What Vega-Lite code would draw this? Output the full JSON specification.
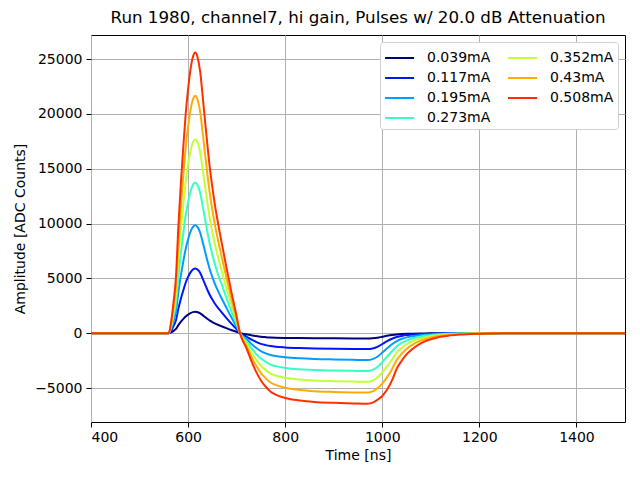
{
  "$schema": "https://vega.github.io/schema/vega-lite/v6.json",
  "width": 534,
  "height": 387,
  "autosize": {"type": "none"},
  "padding": {"left": 91, "top": 35, "right": 15, "bottom": 58},
  "background": "white",
  "title": {"text": "Run 1980, channel7, hi gain, Pulses w/ 20.0 dB Attenuation", "font": "DejaVu Sans", "fontSize": 16.7, "fontWeight": "normal", "color": "black", "offset": 8},
  "config": {
    "view": {"stroke": "black", "strokeWidth": 1},
    "font": "DejaVu Sans"
  },
  "data": {"values": [
    {"t":400,"s":"0.039mA","v":0},{"t":500,"s":"0.039mA","v":0},{"t":560,"s":"0.039mA","v":0},{"t":565,"s":"0.039mA","v":78},{"t":570,"s":"0.039mA","v":215},{"t":575,"s":"0.039mA","v":390},{"t":580,"s":"0.039mA","v":741},{"t":585,"s":"0.039mA","v":1034},{"t":590,"s":"0.039mA","v":1287},{"t":595,"s":"0.039mA","v":1521},{"t":600,"s":"0.039mA","v":1697},{"t":605,"s":"0.039mA","v":1833},{"t":610,"s":"0.039mA","v":1921},{"t":615,"s":"0.039mA","v":1950},{"t":620,"s":"0.039mA","v":1911},{"t":625,"s":"0.039mA","v":1814},{"t":630,"s":"0.039mA","v":1648},{"t":635,"s":"0.039mA","v":1472},{"t":640,"s":"0.039mA","v":1301},{"t":645,"s":"0.039mA","v":1143},{"t":650,"s":"0.039mA","v":1014},{"t":655,"s":"0.039mA","v":897},{"t":660,"s":"0.039mA","v":796},{"t":665,"s":"0.039mA","v":702},{"t":670,"s":"0.039mA","v":614},{"t":680,"s":"0.039mA","v":439},{"t":690,"s":"0.039mA","v":273},{"t":700,"s":"0.039mA","v":117},{"t":707,"s":"0.039mA","v":0},{"t":715,"s":"0.039mA","v":-67},{"t":720,"s":"0.039mA","v":-101},{"t":730,"s":"0.039mA","v":-187},{"t":740,"s":"0.039mA","v":-262},{"t":750,"s":"0.039mA","v":-322},{"t":760,"s":"0.039mA","v":-360},{"t":770,"s":"0.039mA","v":-389},{"t":780,"s":"0.039mA","v":-408},{"t":800,"s":"0.039mA","v":-430},{"t":830,"s":"0.039mA","v":-449},{"t":860,"s":"0.039mA","v":-461},{"t":900,"s":"0.039mA","v":-469},{"t":940,"s":"0.039mA","v":-476},{"t":970,"s":"0.039mA","v":-480},{"t":980,"s":"0.039mA","v":-461},{"t":990,"s":"0.039mA","v":-413},{"t":1000,"s":"0.039mA","v":-326},{"t":1010,"s":"0.039mA","v":-240},{"t":1020,"s":"0.039mA","v":-168},{"t":1030,"s":"0.039mA","v":-115},{"t":1040,"s":"0.039mA","v":-82},{"t":1050,"s":"0.039mA","v":-58},{"t":1060,"s":"0.039mA","v":-43},{"t":1080,"s":"0.039mA","v":-24},{"t":1100,"s":"0.039mA","v":-14},{"t":1120,"s":"0.039mA","v":-7},{"t":1140,"s":"0.039mA","v":-4},{"t":1160,"s":"0.039mA","v":-2},{"t":1180,"s":"0.039mA","v":0},{"t":1250,"s":"0.039mA","v":0},{"t":1500,"s":"0.039mA","v":0},
    {"t":400,"s":"0.117mA","v":0},{"t":500,"s":"0.117mA","v":0},{"t":560,"s":"0.117mA","v":0},{"t":565,"s":"0.117mA","v":236},{"t":570,"s":"0.117mA","v":649},{"t":575,"s":"0.117mA","v":1180},{"t":580,"s":"0.117mA","v":2242},{"t":585,"s":"0.117mA","v":3127},{"t":590,"s":"0.117mA","v":3894},{"t":595,"s":"0.117mA","v":4602},{"t":600,"s":"0.117mA","v":5133},{"t":605,"s":"0.117mA","v":5546},{"t":610,"s":"0.117mA","v":5812},{"t":615,"s":"0.117mA","v":5900},{"t":620,"s":"0.117mA","v":5782},{"t":625,"s":"0.117mA","v":5487},{"t":630,"s":"0.117mA","v":4986},{"t":635,"s":"0.117mA","v":4455},{"t":640,"s":"0.117mA","v":3935},{"t":645,"s":"0.117mA","v":3457},{"t":650,"s":"0.117mA","v":3068},{"t":655,"s":"0.117mA","v":2714},{"t":660,"s":"0.117mA","v":2407},{"t":665,"s":"0.117mA","v":2124},{"t":670,"s":"0.117mA","v":1859},{"t":680,"s":"0.117mA","v":1328},{"t":690,"s":"0.117mA","v":826},{"t":700,"s":"0.117mA","v":354},{"t":707,"s":"0.117mA","v":0},{"t":715,"s":"0.117mA","v":-203},{"t":720,"s":"0.117mA","v":-305},{"t":730,"s":"0.117mA","v":-566},{"t":740,"s":"0.117mA","v":-790},{"t":750,"s":"0.117mA","v":-972},{"t":760,"s":"0.117mA","v":-1088},{"t":770,"s":"0.117mA","v":-1175},{"t":780,"s":"0.117mA","v":-1233},{"t":800,"s":"0.117mA","v":-1298},{"t":830,"s":"0.117mA","v":-1356},{"t":860,"s":"0.117mA","v":-1392},{"t":900,"s":"0.117mA","v":-1418},{"t":940,"s":"0.117mA","v":-1438},{"t":970,"s":"0.117mA","v":-1450},{"t":980,"s":"0.117mA","v":-1392},{"t":990,"s":"0.117mA","v":-1247},{"t":1000,"s":"0.117mA","v":-986},{"t":1010,"s":"0.117mA","v":-725},{"t":1020,"s":"0.117mA","v":-508},{"t":1030,"s":"0.117mA","v":-348},{"t":1040,"s":"0.117mA","v":-247},{"t":1050,"s":"0.117mA","v":-174},{"t":1060,"s":"0.117mA","v":-131},{"t":1080,"s":"0.117mA","v":-73},{"t":1100,"s":"0.117mA","v":-44},{"t":1120,"s":"0.117mA","v":-22},{"t":1140,"s":"0.117mA","v":-12},{"t":1160,"s":"0.117mA","v":-6},{"t":1180,"s":"0.117mA","v":0},{"t":1250,"s":"0.117mA","v":0},{"t":1500,"s":"0.117mA","v":0},
    {"t":400,"s":"0.195mA","v":0},{"t":500,"s":"0.195mA","v":0},{"t":560,"s":"0.195mA","v":0},{"t":565,"s":"0.195mA","v":394},{"t":570,"s":"0.195mA","v":1084},{"t":575,"s":"0.195mA","v":1970},{"t":580,"s":"0.195mA","v":3743},{"t":585,"s":"0.195mA","v":5221},{"t":590,"s":"0.195mA","v":6501},{"t":595,"s":"0.195mA","v":7683},{"t":600,"s":"0.195mA","v":8570},{"t":605,"s":"0.195mA","v":9259},{"t":610,"s":"0.195mA","v":9702},{"t":615,"s":"0.195mA","v":9850},{"t":620,"s":"0.195mA","v":9653},{"t":625,"s":"0.195mA","v":9161},{"t":630,"s":"0.195mA","v":8323},{"t":635,"s":"0.195mA","v":7437},{"t":640,"s":"0.195mA","v":6570},{"t":645,"s":"0.195mA","v":5772},{"t":650,"s":"0.195mA","v":5122},{"t":655,"s":"0.195mA","v":4531},{"t":660,"s":"0.195mA","v":4019},{"t":665,"s":"0.195mA","v":3546},{"t":670,"s":"0.195mA","v":3103},{"t":680,"s":"0.195mA","v":2216},{"t":690,"s":"0.195mA","v":1379},{"t":700,"s":"0.195mA","v":591},{"t":707,"s":"0.195mA","v":0},{"t":715,"s":"0.195mA","v":-343},{"t":720,"s":"0.195mA","v":-515},{"t":730,"s":"0.195mA","v":-956},{"t":740,"s":"0.195mA","v":-1335},{"t":750,"s":"0.195mA","v":-1642},{"t":760,"s":"0.195mA","v":-1838},{"t":770,"s":"0.195mA","v":-1985},{"t":780,"s":"0.195mA","v":-2083},{"t":800,"s":"0.195mA","v":-2193},{"t":830,"s":"0.195mA","v":-2291},{"t":860,"s":"0.195mA","v":-2352},{"t":900,"s":"0.195mA","v":-2396},{"t":940,"s":"0.195mA","v":-2430},{"t":970,"s":"0.195mA","v":-2450},{"t":980,"s":"0.195mA","v":-2364},{"t":990,"s":"0.195mA","v":-2149},{"t":1000,"s":"0.195mA","v":-1769},{"t":1010,"s":"0.195mA","v":-1372},{"t":1020,"s":"0.195mA","v":-1014},{"t":1030,"s":"0.195mA","v":-715},{"t":1040,"s":"0.195mA","v":-524},{"t":1050,"s":"0.195mA","v":-382},{"t":1060,"s":"0.195mA","v":-292},{"t":1080,"s":"0.195mA","v":-167},{"t":1100,"s":"0.195mA","v":-100},{"t":1120,"s":"0.195mA","v":-54},{"t":1140,"s":"0.195mA","v":-31},{"t":1160,"s":"0.195mA","v":-17},{"t":1180,"s":"0.195mA","v":-6},{"t":1200,"s":"0.195mA","v":-3},{"t":1250,"s":"0.195mA","v":0},{"t":1500,"s":"0.195mA","v":0},
    {"t":400,"s":"0.273mA","v":0},{"t":500,"s":"0.273mA","v":0},{"t":560,"s":"0.273mA","v":0},{"t":565,"s":"0.273mA","v":550},{"t":570,"s":"0.273mA","v":1513},{"t":575,"s":"0.273mA","v":2750},{"t":580,"s":"0.273mA","v":5225},{"t":585,"s":"0.273mA","v":7288},{"t":590,"s":"0.273mA","v":9075},{"t":595,"s":"0.273mA","v":10725},{"t":600,"s":"0.273mA","v":11963},{"t":605,"s":"0.273mA","v":12925},{"t":610,"s":"0.273mA","v":13544},{"t":615,"s":"0.273mA","v":13750},{"t":620,"s":"0.273mA","v":13475},{"t":625,"s":"0.273mA","v":12788},{"t":630,"s":"0.273mA","v":11619},{"t":635,"s":"0.273mA","v":10381},{"t":640,"s":"0.273mA","v":9171},{"t":645,"s":"0.273mA","v":8058},{"t":650,"s":"0.273mA","v":7150},{"t":655,"s":"0.273mA","v":6325},{"t":660,"s":"0.273mA","v":5610},{"t":665,"s":"0.273mA","v":4950},{"t":670,"s":"0.273mA","v":4331},{"t":680,"s":"0.273mA","v":3094},{"t":690,"s":"0.273mA","v":1925},{"t":700,"s":"0.273mA","v":825},{"t":707,"s":"0.273mA","v":0},{"t":715,"s":"0.273mA","v":-483},{"t":720,"s":"0.273mA","v":-725},{"t":730,"s":"0.273mA","v":-1346},{"t":740,"s":"0.273mA","v":-1880},{"t":750,"s":"0.273mA","v":-2312},{"t":760,"s":"0.273mA","v":-2622},{"t":770,"s":"0.273mA","v":-2864},{"t":780,"s":"0.273mA","v":-3002},{"t":800,"s":"0.273mA","v":-3167},{"t":830,"s":"0.273mA","v":-3295},{"t":860,"s":"0.273mA","v":-3364},{"t":900,"s":"0.273mA","v":-3409},{"t":940,"s":"0.273mA","v":-3436},{"t":970,"s":"0.273mA","v":-3450},{"t":980,"s":"0.273mA","v":-3347},{"t":990,"s":"0.273mA","v":-3084},{"t":1000,"s":"0.273mA","v":-2636},{"t":1010,"s":"0.273mA","v":-2139},{"t":1020,"s":"0.273mA","v":-1649},{"t":1030,"s":"0.273mA","v":-1187},{"t":1040,"s":"0.273mA","v":-890},{"t":1050,"s":"0.273mA","v":-662},{"t":1060,"s":"0.273mA","v":-511},{"t":1080,"s":"0.273mA","v":-297},{"t":1100,"s":"0.273mA","v":-179},{"t":1120,"s":"0.273mA","v":-100},{"t":1140,"s":"0.273mA","v":-59},{"t":1160,"s":"0.273mA","v":-35},{"t":1180,"s":"0.273mA","v":-17},{"t":1200,"s":"0.273mA","v":-8},{"t":1250,"s":"0.273mA","v":0},{"t":1500,"s":"0.273mA","v":0},
    {"t":400,"s":"0.352mA","v":0},{"t":500,"s":"0.352mA","v":0},{"t":560,"s":"0.352mA","v":0},{"t":565,"s":"0.352mA","v":708},{"t":570,"s":"0.352mA","v":1947},{"t":575,"s":"0.352mA","v":3540},{"t":580,"s":"0.352mA","v":6726},{"t":585,"s":"0.352mA","v":9381},{"t":590,"s":"0.352mA","v":11682},{"t":595,"s":"0.352mA","v":13806},{"t":600,"s":"0.352mA","v":15399},{"t":605,"s":"0.352mA","v":16638},{"t":610,"s":"0.352mA","v":17435},{"t":615,"s":"0.352mA","v":17700},{"t":620,"s":"0.352mA","v":17346},{"t":625,"s":"0.352mA","v":16461},{"t":630,"s":"0.352mA","v":14957},{"t":635,"s":"0.352mA","v":13364},{"t":640,"s":"0.352mA","v":11806},{"t":645,"s":"0.352mA","v":10372},{"t":650,"s":"0.352mA","v":9204},{"t":655,"s":"0.352mA","v":8142},{"t":660,"s":"0.352mA","v":7222},{"t":665,"s":"0.352mA","v":6372},{"t":670,"s":"0.352mA","v":5576},{"t":680,"s":"0.352mA","v":3983},{"t":690,"s":"0.352mA","v":2478},{"t":700,"s":"0.352mA","v":1062},{"t":707,"s":"0.352mA","v":0},{"t":715,"s":"0.352mA","v":-620},{"t":720,"s":"0.352mA","v":-930},{"t":730,"s":"0.352mA","v":-1728},{"t":740,"s":"0.352mA","v":-2414},{"t":750,"s":"0.352mA","v":-2968},{"t":760,"s":"0.352mA","v":-3367},{"t":770,"s":"0.352mA","v":-3677},{"t":780,"s":"0.352mA","v":-3854},{"t":800,"s":"0.352mA","v":-4067},{"t":830,"s":"0.352mA","v":-4231},{"t":860,"s":"0.352mA","v":-4319},{"t":900,"s":"0.352mA","v":-4377},{"t":940,"s":"0.352mA","v":-4412},{"t":970,"s":"0.352mA","v":-4430},{"t":980,"s":"0.352mA","v":-4319},{"t":990,"s":"0.352mA","v":-4036},{"t":1000,"s":"0.352mA","v":-3571},{"t":1010,"s":"0.352mA","v":-3012},{"t":1020,"s":"0.352mA","v":-2401},{"t":1030,"s":"0.352mA","v":-1754},{"t":1040,"s":"0.352mA","v":-1338},{"t":1050,"s":"0.352mA","v":-1010},{"t":1060,"s":"0.352mA","v":-784},{"t":1080,"s":"0.352mA","v":-461},{"t":1100,"s":"0.352mA","v":-279},{"t":1120,"s":"0.352mA","v":-159},{"t":1140,"s":"0.352mA","v":-97},{"t":1160,"s":"0.352mA","v":-58},{"t":1180,"s":"0.352mA","v":-32},{"t":1200,"s":"0.352mA","v":-16},{"t":1250,"s":"0.352mA","v":0},{"t":1500,"s":"0.352mA","v":0},
    {"t":400,"s":"0.43mA","v":0},{"t":500,"s":"0.43mA","v":0},{"t":560,"s":"0.43mA","v":0},{"t":565,"s":"0.43mA","v":866},{"t":570,"s":"0.43mA","v":2382},{"t":575,"s":"0.43mA","v":4330},{"t":580,"s":"0.43mA","v":8227},{"t":585,"s":"0.43mA","v":11475},{"t":590,"s":"0.43mA","v":14289},{"t":595,"s":"0.43mA","v":16887},{"t":600,"s":"0.43mA","v":18836},{"t":605,"s":"0.43mA","v":20351},{"t":610,"s":"0.43mA","v":21325},{"t":615,"s":"0.43mA","v":21650},{"t":620,"s":"0.43mA","v":21217},{"t":625,"s":"0.43mA","v":20135},{"t":630,"s":"0.43mA","v":18294},{"t":635,"s":"0.43mA","v":16346},{"t":640,"s":"0.43mA","v":14441},{"t":645,"s":"0.43mA","v":12687},{"t":650,"s":"0.43mA","v":11258},{"t":655,"s":"0.43mA","v":9959},{"t":660,"s":"0.43mA","v":8833},{"t":665,"s":"0.43mA","v":7794},{"t":670,"s":"0.43mA","v":6820},{"t":680,"s":"0.43mA","v":4871},{"t":690,"s":"0.43mA","v":3031},{"t":700,"s":"0.43mA","v":1299},{"t":707,"s":"0.43mA","v":0},{"t":715,"s":"0.43mA","v":-759},{"t":720,"s":"0.43mA","v":-1138},{"t":730,"s":"0.43mA","v":-2114},{"t":740,"s":"0.43mA","v":-2954},{"t":750,"s":"0.43mA","v":-3631},{"t":760,"s":"0.43mA","v":-4119},{"t":770,"s":"0.43mA","v":-4499},{"t":780,"s":"0.43mA","v":-4715},{"t":800,"s":"0.43mA","v":-4976},{"t":830,"s":"0.43mA","v":-5176},{"t":860,"s":"0.43mA","v":-5285},{"t":900,"s":"0.43mA","v":-5355},{"t":940,"s":"0.43mA","v":-5398},{"t":970,"s":"0.43mA","v":-5420},{"t":980,"s":"0.43mA","v":-5312},{"t":990,"s":"0.43mA","v":-5030},{"t":1000,"s":"0.43mA","v":-4596},{"t":1010,"s":"0.43mA","v":-4011},{"t":1020,"s":"0.43mA","v":-3285},{"t":1030,"s":"0.43mA","v":-2428},{"t":1040,"s":"0.43mA","v":-1875},{"t":1050,"s":"0.43mA","v":-1431},{"t":1060,"s":"0.43mA","v":-1117},{"t":1080,"s":"0.43mA","v":-661},{"t":1100,"s":"0.43mA","v":-401},{"t":1120,"s":"0.43mA","v":-233},{"t":1140,"s":"0.43mA","v":-143},{"t":1160,"s":"0.43mA","v":-87},{"t":1180,"s":"0.43mA","v":-52},{"t":1200,"s":"0.43mA","v":-26},{"t":1250,"s":"0.43mA","v":0},{"t":1500,"s":"0.43mA","v":0},
    {"t":400,"s":"0.508mA","v":0},{"t":500,"s":"0.508mA","v":0},{"t":560,"s":"0.508mA","v":0},{"t":565,"s":"0.508mA","v":1024},{"t":570,"s":"0.508mA","v":2816},{"t":575,"s":"0.508mA","v":5120},{"t":580,"s":"0.508mA","v":9728},{"t":585,"s":"0.508mA","v":13568},{"t":590,"s":"0.508mA","v":16896},{"t":595,"s":"0.508mA","v":19968},{"t":600,"s":"0.508mA","v":22272},{"t":605,"s":"0.508mA","v":24064},{"t":610,"s":"0.508mA","v":25216},{"t":615,"s":"0.508mA","v":25600},{"t":620,"s":"0.508mA","v":25088},{"t":625,"s":"0.508mA","v":23808},{"t":630,"s":"0.508mA","v":21632},{"t":635,"s":"0.508mA","v":19328},{"t":640,"s":"0.508mA","v":17075},{"t":645,"s":"0.508mA","v":15002},{"t":650,"s":"0.508mA","v":13312},{"t":655,"s":"0.508mA","v":11776},{"t":660,"s":"0.508mA","v":10445},{"t":665,"s":"0.508mA","v":9216},{"t":670,"s":"0.508mA","v":8064},{"t":680,"s":"0.508mA","v":5760},{"t":690,"s":"0.508mA","v":3584},{"t":700,"s":"0.508mA","v":1536},{"t":707,"s":"0.508mA","v":0},{"t":715,"s":"0.508mA","v":-900},{"t":720,"s":"0.508mA","v":-1350},{"t":730,"s":"0.508mA","v":-2508},{"t":740,"s":"0.508mA","v":-3504},{"t":750,"s":"0.508mA","v":-4308},{"t":760,"s":"0.508mA","v":-4887},{"t":770,"s":"0.508mA","v":-5337},{"t":780,"s":"0.508mA","v":-5594},{"t":800,"s":"0.508mA","v":-5903},{"t":830,"s":"0.508mA","v":-6141},{"t":860,"s":"0.508mA","v":-6269},{"t":900,"s":"0.508mA","v":-6353},{"t":940,"s":"0.508mA","v":-6404},{"t":970,"s":"0.508mA","v":-6430},{"t":980,"s":"0.508mA","v":-6334},{"t":990,"s":"0.508mA","v":-6076},{"t":1000,"s":"0.508mA","v":-5723},{"t":1010,"s":"0.508mA","v":-5144},{"t":1020,"s":"0.508mA","v":-4308},{"t":1030,"s":"0.508mA","v":-3215},{"t":1040,"s":"0.508mA","v":-2508},{"t":1050,"s":"0.508mA","v":-1929},{"t":1060,"s":"0.508mA","v":-1511},{"t":1080,"s":"0.508mA","v":-900},{"t":1100,"s":"0.508mA","v":-547},{"t":1120,"s":"0.508mA","v":-322},{"t":1140,"s":"0.508mA","v":-199},{"t":1160,"s":"0.508mA","v":-122},{"t":1180,"s":"0.508mA","v":-77},{"t":1200,"s":"0.508mA","v":-39},{"t":1250,"s":"0.508mA","v":0},{"t":1500,"s":"0.508mA","v":0}
  ]},
  "mark": {"type": "line", "interpolate": "monotone", "strokeWidth": 2, "clip": true},
  "encoding": {
    "x": {
      "field": "t", "type": "quantitative",
      "scale": {"domain": [400, 1500], "nice": false, "zero": false},
      "axis": {
        "title": "Time [ns]", "values": [400, 600, 800, 1000, 1200, 1400], "format": "d",
        "grid": true, "gridColor": "#b0b0b0", "gridWidth": 1,
        "domain": false, "tickColor": "black", "tickSize": 5,
        "labelFont": "DejaVu Sans", "labelFontSize": 14, "labelColor": "black", "labelPadding": 3,
        "titleFont": "DejaVu Sans", "titleFontSize": 14, "titleFontWeight": "normal", "titleColor": "black", "titlePadding": 4
      }
    },
    "y": {
      "field": "v", "type": "quantitative",
      "scale": {"domain": [-8100, 27200], "nice": false, "zero": false},
      "axis": {
        "title": "Amplitude [ADC Counts]", "values": [-5000, 0, 5000, 10000, 15000, 20000, 25000],
        "format": "d",
        "grid": true, "gridColor": "#b0b0b0", "gridWidth": 1,
        "domain": false, "tickColor": "black", "tickSize": 5,
        "labelFont": "DejaVu Sans", "labelFontSize": 14, "labelColor": "black", "labelPadding": 4,
        "titleFont": "DejaVu Sans", "titleFontSize": 14, "titleFontWeight": "normal", "titleColor": "black", "titlePadding": 7
      }
    },
    "color": {
      "field": "s", "type": "nominal",
      "scale": {
        "domain": ["0.039mA", "0.117mA", "0.195mA", "0.273mA", "0.352mA", "0.43mA", "0.508mA"],
        "range": ["#000080", "#0014ff", "#009cff", "#36ffc1", "#c1ff36", "#ffac00", "#ff3000"]
      },
      "legend": {
        "title": null, "orient": "top-right", "offset": 7, "columns": 2,
        "symbolType": "M-1,0H1.65", "symbolSize": 480, "symbolStrokeWidth": 2,
        "labelFont": "DejaVu Sans", "labelFontSize": 14, "labelColor": "black", "labelOffset": 19,
        "strokeColor": "#d0d0d0", "fillColor": "white", "cornerRadius": 3, "padding": 4,
        "rowPadding": 1, "columnPadding": 13
      }
    },
    "order": {"field": "t", "type": "quantitative"}
  }
}
